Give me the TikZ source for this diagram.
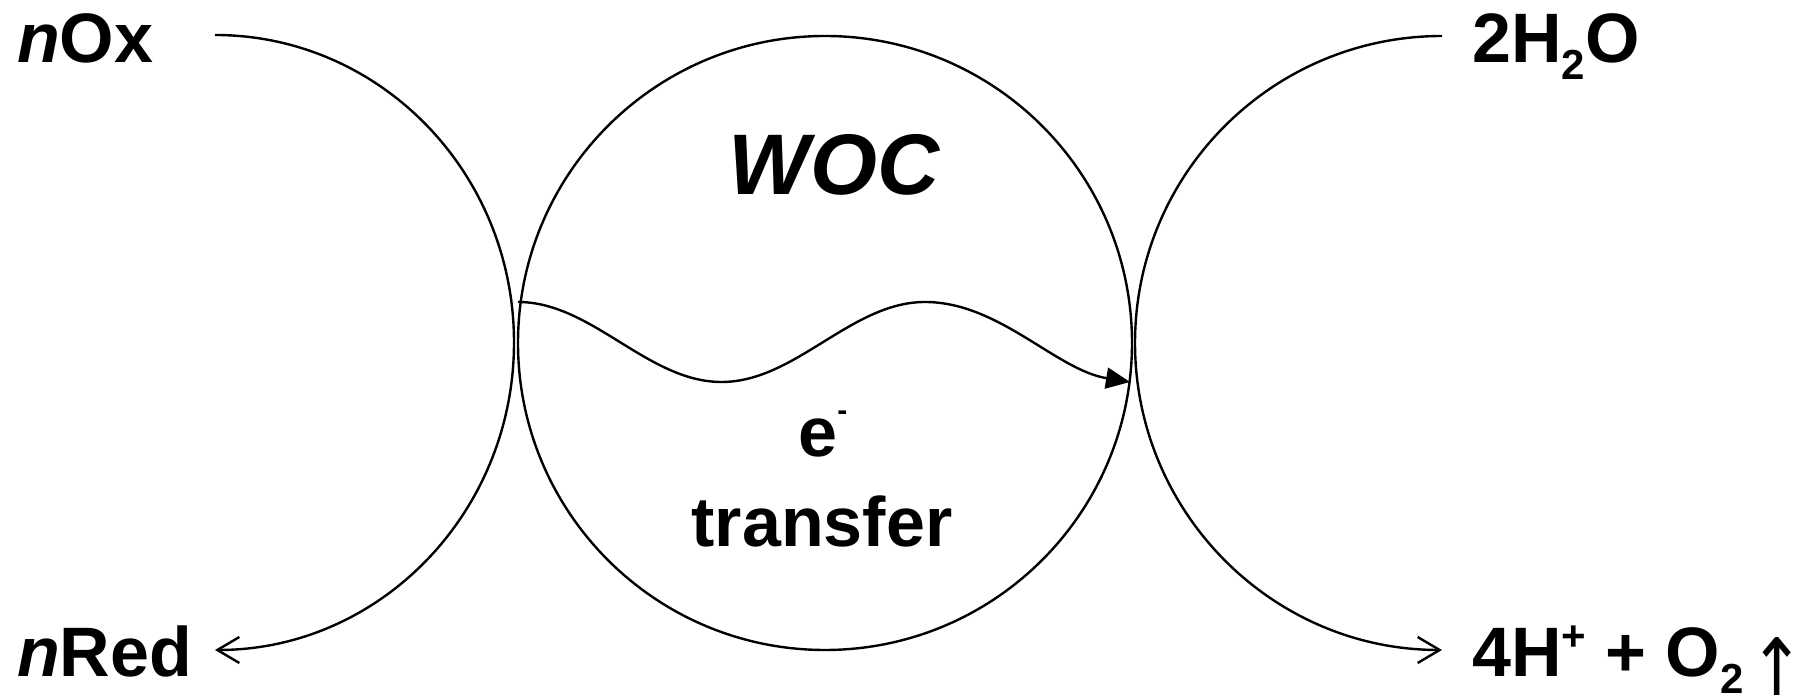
\documentclass[tikz,border=0pt]{standalone}
\usepackage{fontspec}
\setmainfont{Liberation Sans}
\newfontfamily\arrowfont{DejaVu Sans}
\usetikzlibrary{arrows.meta}
\tikzset{
  line/.style={line width=2.4pt},
  lbl/.style={inner sep=0pt, font=\fontsize{70}{84}\selectfont\bfseries},
}
\newcommand{\subtwo}{\raisebox{-17pt}{\fontsize{42}{42}\selectfont 2}}
\newcommand{\supplus}{\raisebox{26pt}{\fontsize{42}{42}\selectfont +}}
\begin{document}
\begin{tikzpicture}[x=1pt,y=1pt]
\useasboundingbox (0,0) rectangle (1809,700);
% central circle
\node[line, draw, circle, minimum size=614pt, inner sep=0pt] (woc) at (825,357) {};
% left arc
\coordinate (ltop) at (215,665);
\coordinate (lbot) at (215,50);
\draw[line, -{Straight Barb[length=22pt,width=26pt,line width=2.4pt]}] (ltop) arc[start angle=90, end angle=-90, x radius=299, y radius=307.5];
% right arc
\coordinate (rtop) at (1442,664);
\coordinate (rbot) at (1440,50);
\draw[line, -{Straight Barb[length=22pt,width=26pt,line width=2.4pt]}] (rtop) arc[start angle=90, end angle=270, x radius=307, y radius=307];
% wave
\coordinate (w0) at (518,398);
\coordinate (w1) at (721.5,318);
\coordinate (w2) at (925,398);
\coordinate (w3) at (1130,318);
\draw[line, -{Triangle[length=24pt,width=21pt]}] (w0) .. controls +(74,0) and +(-74,0) .. (w1)
  .. controls +(74,0) and +(-74,0) .. (w2)
  .. controls +(74,0) and +(-74,12) .. (w3);
% labels
\node[lbl, anchor=base west] (nox) at (17,637) {\textit{n}Ox};
\node[lbl, anchor=base west] (nred) at (17,23) {\textit{n}Red};
\node[lbl, anchor=base west] (water) at (1472,637) {2H\subtwo O};
\node[lbl, anchor=base west] (prod) at (1472,23) {4H\supplus{} + O\subtwo\hspace{6pt}{\arrowfont\mdseries\raisebox{-19pt}{\scalebox{1}[1.2]{\fontsize{66}{66}\selectfont ↑}}}};
\node[lbl, anchor=base, font=\fontsize{86}{100}\selectfont\bfseries\itshape] (woclbl) at (834,505) {WOC};
\node[lbl, anchor=base] (elec) at (823,243) {e\raisebox{36pt}{\fontsize{30}{30}\selectfont -}};
\node[lbl, anchor=base] (transfer) at (822,153) {transfer};
\end{tikzpicture}
\end{document}
